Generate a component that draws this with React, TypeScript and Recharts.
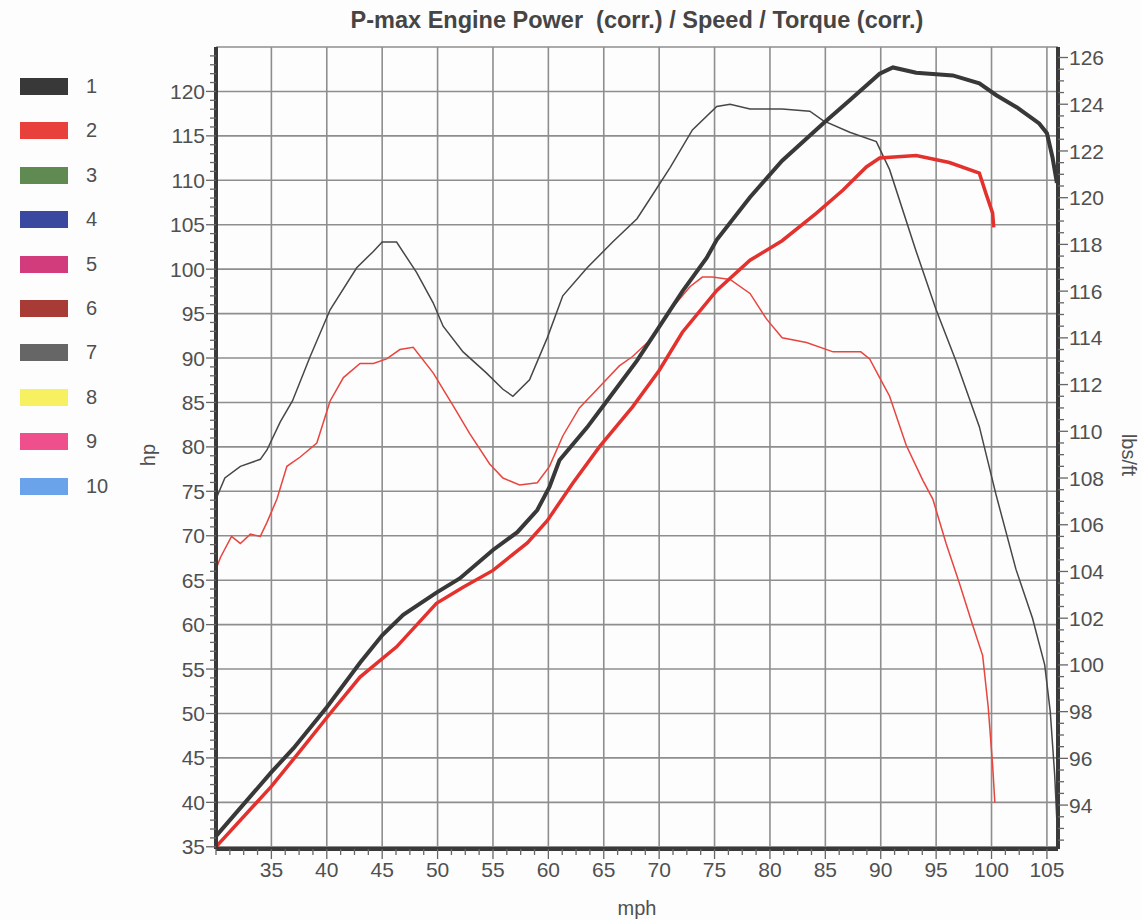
import { CartesianGrid, Line, LineChart, XAxis, YAxis } from "recharts";

const TITLE = "P-max Engine Power  (corr.) / Speed / Torque (corr.)";

// [mph, hp] - power, run 1 / run 2
const power1: [number, number][] = [
  [30.0, 36.2], [35.0, 43.4], [37.0, 46.1], [40.0, 50.7], [43.0, 55.7],
  [45.0, 58.8], [46.9, 61.1], [49.9, 63.6], [52.0, 65.2], [55.0, 68.4], [57.2, 70.4],
  [59.0, 72.9], [60.1, 75.5], [61.0, 78.5], [63.5, 82.2], [65.3, 85.2],
  [68.0, 89.7], [70.0, 93.5], [72.1, 97.5], [74.3, 101.3], [75.2, 103.3],
  [78.2, 108.1], [81.1, 112.2], [84.8, 116.4], [87.2, 119.0], [89.9, 122.0],
  [91.1, 122.7], [93.2, 122.1], [96.5, 121.8], [98.9, 120.9], [100.4, 119.6],
  [102.3, 118.2], [104.3, 116.4], [105.0, 115.3], [105.5, 112.6], [105.9, 109.7],
];

const power2: [number, number][] = [
  [30.0, 35.0], [35.0, 41.8], [37.8, 46.1], [40.3, 50.0], [43.0, 54.1],
  [46.3, 57.5], [49.9, 62.4], [52.3, 64.2], [55.0, 66.1], [58.1, 69.2],
  [59.9, 71.7], [62.2, 75.9], [64.6, 80.0], [67.6, 84.5], [70.0, 88.6],
  [72.1, 92.9], [75.2, 97.6], [78.2, 101.0], [81.1, 103.2], [84.2, 106.3],
  [86.6, 108.9], [88.7, 111.5], [89.9, 112.5], [93.2, 112.8], [96.2, 112.0],
  [98.9, 110.8], [99.5, 108.5], [100.1, 106.3], [100.2, 104.7],
];

// [mph, lbs/ft] - torque, run 1 / run 2
const torque1: [number, number][] = [
  [30.0, 107.1], [30.8, 108.0], [32.2, 108.5], [34.0, 108.8], [34.6, 109.2],
  [35.8, 110.4], [36.9, 111.3], [38.5, 113.2], [40.3, 115.2], [42.7, 117.0],
  [44.2, 117.7], [45.0, 118.1], [46.3, 118.1], [48.1, 116.8], [49.6, 115.5],
  [50.5, 114.5], [52.3, 113.4], [54.4, 112.5], [55.9, 111.8], [56.8, 111.5],
  [58.3, 112.2], [59.9, 114.0], [61.3, 115.8], [63.5, 117.0], [65.8, 118.1],
  [68.0, 119.1], [69.1, 119.9], [71.0, 121.3], [73.0, 122.9], [75.2, 123.9],
  [76.4, 124.0], [78.2, 123.8], [81.1, 123.8], [83.6, 123.7], [84.8, 123.3],
  [87.2, 122.8], [89.6, 122.4], [90.8, 121.2], [93.2, 117.7], [95.0, 115.2],
  [96.8, 113.0], [98.9, 110.2], [100.4, 107.3], [102.2, 104.1], [103.7, 102.0],
  [104.8, 100.0], [105.3, 98.0], [105.7, 95.3], [106.0, 92.3],
];

const torque2: [number, number][] = [
  [30.0, 104.1], [30.4, 104.6], [31.4, 105.5], [32.2, 105.2], [33.1, 105.6],
  [34.0, 105.5], [34.6, 106.1], [35.5, 107.1], [36.4, 108.5], [37.6, 108.9],
  [39.1, 109.5], [40.3, 111.3], [41.5, 112.3], [43.0, 112.9], [44.2, 112.9],
  [45.4, 113.1], [46.6, 113.5], [47.8, 113.6], [49.6, 112.5], [51.4, 111.1],
  [52.9, 109.9], [54.7, 108.6], [55.9, 108.0], [57.4, 107.7], [59.0, 107.8],
  [60.1, 108.5], [61.3, 109.8], [62.8, 111.0], [64.6, 111.9], [66.4, 112.8],
  [67.6, 113.2], [69.4, 114.0], [71.2, 115.3], [72.8, 116.2], [73.9, 116.6],
  [74.8, 116.6], [76.4, 116.5], [78.2, 115.9], [79.7, 114.8], [81.1, 114.0],
  [83.3, 113.8], [85.7, 113.4], [88.2, 113.4], [89.0, 113.1], [89.9, 112.3],
  [90.8, 111.5], [92.3, 109.4], [93.8, 107.9], [94.7, 107.1], [95.9, 105.2],
  [97.1, 103.5], [98.3, 101.7], [99.2, 100.4], [99.7, 98.2], [100.1, 95.7],
  [100.3, 94.1],
];

const LEGEND_ITEMS = [
  { name: "1", color: "#383838" },
  { name: "2", color: "#e8403a" },
  { name: "3", color: "#5f8a52" },
  { name: "4", color: "#3a48a0" },
  { name: "5", color: "#d33c7c" },
  { name: "6", color: "#a83b35" },
  { name: "7", color: "#666666" },
  { name: "8", color: "#f7f060" },
  { name: "9", color: "#ef4f8c" },
  { name: "10", color: "#6ba3ea" },
];

const steps = (start: number, end: number, step: number) =>
  Array.from({ length: Math.round((end - start) / step) + 1 }, (_, i) =>
    Number((start + i * step).toFixed(2))
  );

const MPH_TICKS = steps(30, 105, 1.25);
const HP_TICKS = steps(35, 124, 1);
const LBS_TICKS = steps(92.5, 126, 0.5);
const MPH_GRID = steps(35, 105, 5);
const HP_GRID = steps(35, 125, 5);

const FONT = "'Liberation Sans', Arial, sans-serif";
const TEXT = "#505050";
const AXIS = "#3a3a3a";

const toPoints = (rows: [number, number][]) => rows.map(([mph, v]) => ({ mph, v }));

const isMajor = (v: number, every: number) => Math.abs(v / every - Math.round(v / every)) < 1e-6;

function HpTick({ x, y, payload }: any) {
  const v = payload.value as number;
  const major = isMajor(v, 5);
  return (
    <g>
      <line x1={x} x2={x - (major ? 10 : 6)} y1={y} y2={y} stroke="#666" strokeWidth={1.3} />
      {major && (
        <text x={x - 11} y={y} dy="0.36em" textAnchor="end" fill={TEXT} fontSize={21} fontFamily={FONT}>
          {v}
        </text>
      )}
    </g>
  );
}

function LbsTick({ x, y, payload }: any) {
  const v = payload.value as number;
  const major = isMajor(v, 2) && v >= 94;
  return (
    <g>
      <line x1={x} x2={x + (major ? 10 : 6)} y1={y} y2={y} stroke="#666" strokeWidth={1.3} />
      {major && (
        <text x={x + 11} y={y} dy="0.36em" textAnchor="start" fill={TEXT} fontSize={21} fontFamily={FONT}>
          {v}
        </text>
      )}
    </g>
  );
}

function MphTick({ x, y, payload }: any) {
  const v = payload.value as number;
  const major = isMajor(v, 5) && v >= 35;
  return (
    <g>
      <line x1={x} x2={x} y1={y} y2={y + (major ? 10 : 6)} stroke="#666" strokeWidth={1.3} />
      {major && (
        <text x={x} y={y + 28} textAnchor="middle" fill={TEXT} fontSize={21} fontFamily={FONT}>
          {v}
        </text>
      )}
    </g>
  );
}

export default function App() {
  return (
    <div
      style={{
        position: "absolute",
        left: 0,
        top: 0,
        width: 1141,
        height: 920,
        background: "#fdfdfd",
        fontFamily: FONT,
        color: TEXT,
      }}
    >
      <div
        style={{
          position: "absolute",
          left: 0,
          width: 1274,
          top: 7,
          textAlign: "center",
          fontWeight: "bold",
          fontSize: 23.5,
          whiteSpace: "pre",
          color: "#454545",
        }}
      >
        {TITLE}
      </div>

      {LEGEND_ITEMS.map((item, i) => (
        <div key={item.name} style={{ position: "absolute", left: 20, top: 78 + i * 44.4, height: 18 }}>
          <div style={{ position: "absolute", left: 0, top: 0, width: 48, height: 17, background: item.color }} />
          <div style={{ position: "absolute", left: 66, top: -3, fontSize: 20, lineHeight: "22px" }}>{item.name}</div>
        </div>
      ))}

      <div
        style={{
          position: "absolute",
          left: 148,
          top: 455,
          transform: "translate(-50%, -50%) rotate(-90deg)",
          fontSize: 20,
        }}
      >
        hp
      </div>
      <div
        style={{
          position: "absolute",
          left: 1128,
          top: 455,
          transform: "translate(-50%, -50%) rotate(90deg)",
          fontSize: 20,
          whiteSpace: "nowrap",
        }}
      >
        lbs/ft
      </div>
      <div
        style={{
          position: "absolute",
          left: 637,
          top: 908,
          transform: "translate(-50%, -50%)",
          fontSize: 20,
        }}
      >
        mph
      </div>

      <LineChart
        width={1141}
        height={920}
        margin={{ top: 47, right: 23, bottom: 31, left: 146 }}
        style={{ position: "absolute", left: 0, top: 0 }}
      >
        <CartesianGrid
          yAxisId="hp"
          stroke="#8e8e8e"
          strokeWidth={1.6}
          horizontalValues={HP_GRID}
          verticalValues={MPH_GRID}
        />
        <XAxis
          dataKey="mph"
          type="number"
          domain={[30, 106]}
          allowDataOverflow
          ticks={MPH_TICKS}
          interval={0}
          height={40}
          tickSize={0}
          tickMargin={0}
          tickLine={false}
          tick={<MphTick />}
          axisLine={{ stroke: AXIS, strokeWidth: 4 }}
        />
        <YAxis
          yAxisId="hp"
          orientation="left"
          type="number"
          domain={[34.75, 125]}
          allowDataOverflow
          ticks={HP_TICKS}
          interval={0}
          width={70}
          tickSize={0}
          tickMargin={0}
          tickLine={false}
          tick={<HpTick />}
          axisLine={{ stroke: AXIS, strokeWidth: 4 }}
        />
        <YAxis
          yAxisId="lbs"
          orientation="right"
          type="number"
          domain={[92.12, 126.45]}
          allowDataOverflow
          ticks={LBS_TICKS}
          interval={0}
          width={60}
          tickSize={0}
          tickMargin={0}
          tickLine={false}
          tick={<LbsTick />}
          axisLine={{ stroke: AXIS, strokeWidth: 4 }}
        />

        <Line
          yAxisId="lbs"
          data={toPoints(torque1)}
          dataKey="v"
          type="linear"
          stroke="#474747"
          strokeWidth={1.5}
          dot={false}
          isAnimationActive={false}
        />
        <Line
          yAxisId="lbs"
          data={toPoints(torque2)}
          dataKey="v"
          type="linear"
          stroke="#e8453f"
          strokeWidth={1.5}
          dot={false}
          isAnimationActive={false}
        />
        <Line
          yAxisId="hp"
          data={toPoints(power2)}
          dataKey="v"
          type="linear"
          stroke="#e3322e"
          strokeWidth={3.5}
          dot={false}
          isAnimationActive={false}
        />
        <Line
          yAxisId="hp"
          data={toPoints(power1)}
          dataKey="v"
          type="linear"
          stroke="#383838"
          strokeWidth={4}
          dot={false}
          isAnimationActive={false}
        />
      </LineChart>
    </div>
  );
}
